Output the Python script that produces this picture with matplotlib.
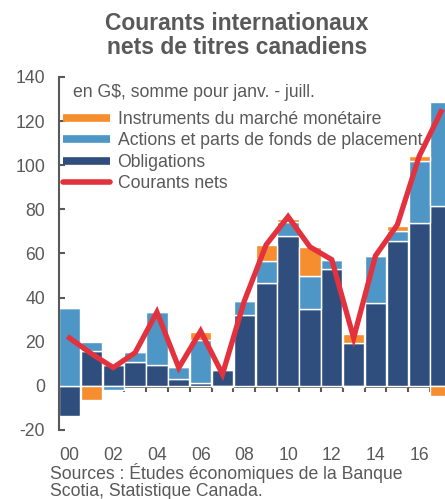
import matplotlib
matplotlib.use("Agg")
import matplotlib.pyplot as plt
from matplotlib.lines import Line2D
import numpy as np

years = list(range(2000, 2018))
obligations = [-13.7, 16.0, 9.4, 10.6, 9.6, 3.3, 1.5, 7.3, 32.2, 46.8, 68.1, 35.0, 52.8, 19.5, 37.7, 65.8, 74.0, 81.3]
actions = [35.4, 3.9, -2.0, 4.9, 23.8, 5.1, 19.3, 0.0, 6.3, 9.7, 6.3, 14.9, 4.2, -0.5, 21.1, 4.6, 27.8, 47.4]
monetaire = [0.0, -6.4, 0.0, 0.0, 0.0, 0.0, 3.7, -0.6, 0.0, 7.2, 1.3, 13.0, 0.0, 3.8, 0.0, 2.2, 2.6, -4.6]
net = [21.7, 14.6, 8.3, 15.0, 33.4, 8.2, 24.8, 5.3, 38.5, 64.0, 76.7, 63.0, 57.2, 21.7, 59.0, 73.0, 104.1, 124.3]
xtick_years = [2000, 2002, 2004, 2006, 2008, 2010, 2012, 2014, 2016]
xtick_labels = ["00", "02", "04", "06", "08", "10", "12", "14", "16"]
yticks = [-20, 0, 20, 40, 60, 80, 100, 120, 140]

series = [
    ("Obligations", obligations, "#2f4e7e"),
    ("Actions et parts de fonds de placement", actions, "#4e96c6"),
    ("Instruments du marché monétaire", monetaire, "#f68d2e"),
]

plt.rcParams['font.family'] = ['Liberation Sans', 'DejaVu Sans']
gray = "#595959"
fs = 12.7

fig = plt.figure(figsize=(4.45, 4.99), dpi=100)
ax = fig.add_axes([0.1326, 0.1383, 1.0 - 0.1326, 0.8457 - 0.1383])

x = np.array(years, dtype=float)
pos_bottom = np.zeros(len(years))
neg_bottom = np.zeros(len(years))
for name, vals, col in series:
    v = np.array(vals)
    bottom = np.where(v >= 0, pos_bottom, neg_bottom)
    ax.bar(x, v, bottom=bottom, width=0.97, color=col, edgecolor="white", linewidth=1.0, zorder=2)
    pos_bottom += np.where(v >= 0, v, 0)
    neg_bottom += np.where(v < 0, v, 0)

ax.plot(x, net, color="#e3323e", linewidth=3.8, zorder=4, solid_joinstyle="miter")

ax.set_xlim(1999.52, 2017.18)
ax.set_ylim(-20, 140)

for s in ["top", "right", "bottom"]:
    ax.spines[s].set_visible(False)
ax.spines["left"].set_color(gray)
ax.spines["left"].set_linewidth(1.5)
ax.set_yticks(yticks)
ax.set_yticklabels([str(t) for t in yticks])
ax.tick_params(axis="y", direction="in", length=4, width=1.5, color=gray, labelcolor=gray, labelsize=fs, pad=10)

ax.set_xticks(xtick_years)
ax.set_xticklabels(xtick_labels)
ax.tick_params(axis="x", length=0, labelcolor=gray, labelsize=fs, pad=12)

# zero axis with year-boundary ticks
zero_frac = (0 - (-20)) / 160.0
sec = ax.secondary_xaxis(zero_frac)
sec.spines["bottom"].set_color(gray)
sec.spines["bottom"].set_linewidth(2.0)
sec.set_xticks(np.array(years) + 0.5)
sec.set_xticklabels([])
sec.tick_params(axis="x", direction="out", length=4, width=1.5, color=gray)
sec.spines["bottom"].set_zorder(3)

ax.text(0.036, 0.957, "en G$, somme pour janv. - juill.", transform=ax.transAxes,
        fontsize=fs, color=gray, ha="left", va="center")

handles = [
    Line2D([0], [0], color="#f68d2e", lw=5.5, solid_capstyle="butt"),
    Line2D([0], [0], color="#4e96c6", lw=5.5, solid_capstyle="butt"),
    Line2D([0], [0], color="#2f4e7e", lw=5.5, solid_capstyle="butt"),
    Line2D([0], [0], color="#e3323e", lw=4, solid_capstyle="round"),
]
labels = ["Instruments du marché monétaire", "Actions et parts de fonds de placement",
          "Obligations", "Courants nets"]
leg = ax.legend(handles, labels, loc="upper left", bbox_to_anchor=(0.01, 0.904), frameon=False,
                fontsize=fs, handlelength=2.7, handletextpad=0.4, labelspacing=0.25,
                borderaxespad=0.0, borderpad=0.0)
for t in leg.get_texts():
    t.set_color(gray)

fig.text(0.533, 0.975, "Courants internationaux\nnets de titres canadiens", ha="center", va="top",
         fontsize=16.5, fontweight="bold", color=gray, linespacing=1.05)

fig.text(0.112, 0.073, "Sources : Études économiques de la Banque\nScotia, Statistique Canada.",
         ha="left", va="top", fontsize=fs, color=gray, linespacing=1.0)

fig.savefig("out.png", dpi=100)
